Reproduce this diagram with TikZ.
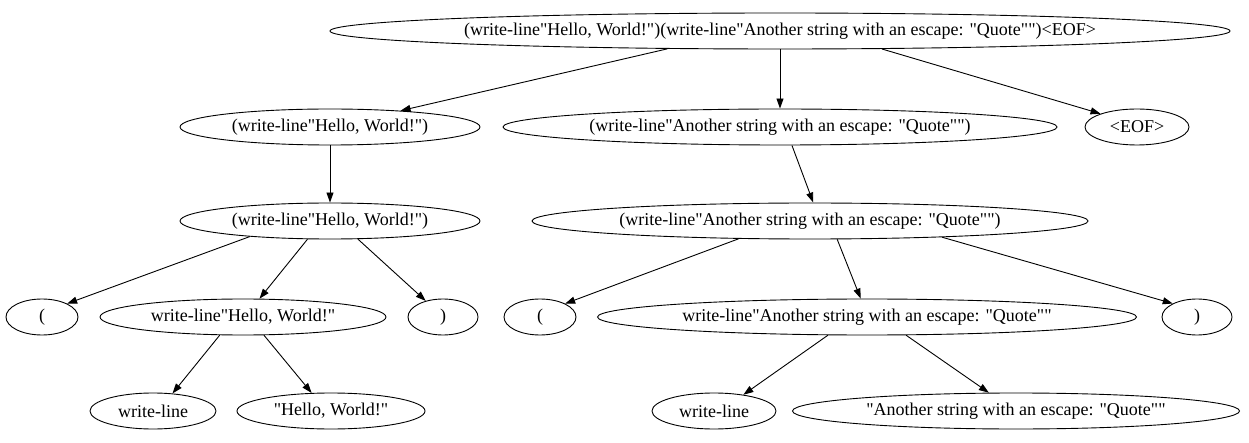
\documentclass[tikz,border=0pt]{standalone}
\usepackage{fontspec}
\setmainfont{Liberation Serif}[Ligatures=TeXOff]
\usetikzlibrary{shapes.geometric,arrows.meta}
\tikzset{
  nd/.style={ellipse,draw,line width=0.9pt,inner sep=0pt,minimum height=36pt,font=\fontsize{18}{20}\selectfont},
  ed/.style={line width=0.9pt,-{Triangle[length=10pt,width=7pt]}}
}
\begin{document}
\begin{tikzpicture}[x=1pt,y=-1pt]
\useasboundingbox (0,0) rectangle (1249,443);
\node[nd,minimum width=900pt] (root) at (780,31) {(write-line"Hello, World!")(write-line"Another string with an escape: "Quote"")<EOF>};
\node[nd,minimum width=300pt] (a) at (330,127) {(write-line"Hello, World!")};
\node[nd,minimum width=554pt] (b) at (780,127) {(write-line"Another string with an escape: "Quote"")};
\node[nd,minimum width=104pt] (eof) at (1137,127) {<EOF>};
\node[nd,minimum width=300pt] (a2) at (330,221) {(write-line"Hello, World!")};
\node[nd,minimum width=556pt] (b2) at (810,221) {(write-line"Another string with an escape: "Quote"")};
\node[nd,minimum width=72pt] (lp1) at (42,317) {(};
\node[nd,minimum width=286pt] (wl1) at (243,317) {write-line"Hello, World!"};
\node[nd,minimum width=70pt] (rp1) at (443,317) {)};
\node[nd,minimum width=72pt] (lp2) at (540,317) {(};
\node[nd,minimum width=539pt] (wl2) at (867,317) {write-line"Another string with an escape: "Quote""};
\node[nd,minimum width=70pt] (rp2) at (1197,317) {)};
\node[nd,minimum width=126pt] (wla) at (153,411) {write-line};
\node[nd,minimum width=188pt] (stra) at (331,411) {"Hello, World!"};
\node[nd,minimum width=124pt] (wlb) at (714,411) {write-line};
\node[nd,minimum width=447pt] (strb) at (1016,411) {"Another string with an escape: "Quote""};
\draw[ed] (root.189.2) -- (a.13.1);
\draw[ed] (root) -- (b);
\draw[ed] (root.350.4) -- (eof.160);
\draw[ed] (a) -- (a2);
\draw[ed] (b.303.7) -- (b2.80.5);
\draw[ed] (a2.191.3) -- (lp1.28.8);
\draw[ed] (a2.219) -- (wl1.48.7);
\draw[ed] (a2.327.7) -- (rp1.137.6);
\draw[ed] (b2.194) -- (lp2.28.5);
\draw[ed] (b2.326.2) -- (wl2.109.3);
\draw[ed] (b2.353.8) -- (rp2.151.5);
\draw[ed] (wl1.218.3) -- (wla.42.5);
\draw[ed] (wl1.319.7) -- (stra.137.5);
\draw[ed] (wl2.205.7) -- (wlb.29.2);
\draw[ed] (wl2.335.5) -- (strb.146.1);
\end{tikzpicture}
\end{document}
